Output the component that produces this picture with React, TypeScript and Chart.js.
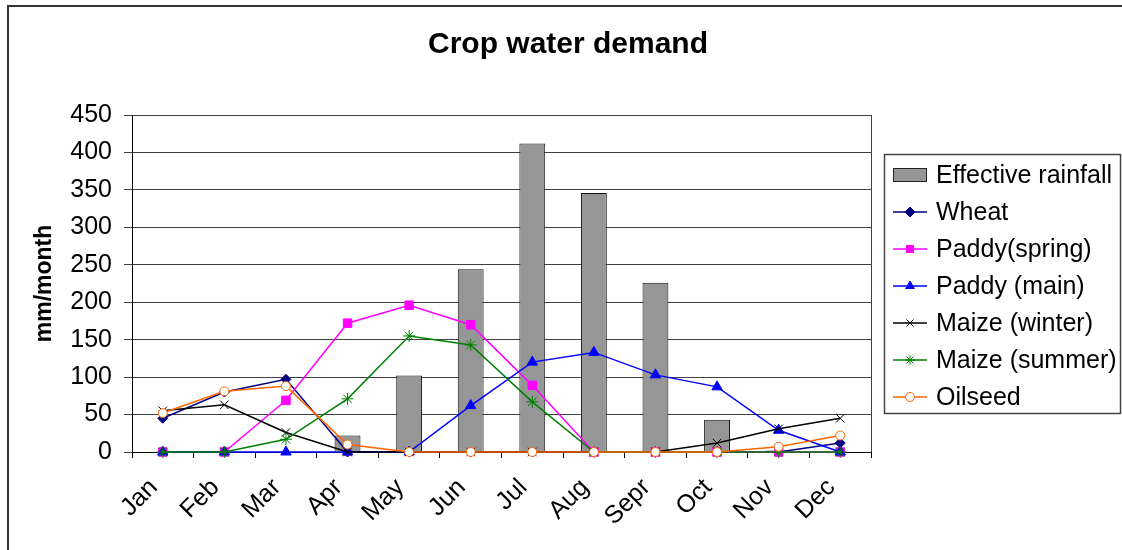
import React, { useEffect, useRef } from "react";
import { Chart, registerables } from "chart.js";

Chart.register(...registerables);

const FONT = "'Liberation Sans', Arial, sans-serif";

const chartTitle = "Crop water demand";
const yAxisTitle = "mm/month";
const months = ["Jan", "Feb", "Mar", "Apr", "May", "Jun", "Jul", "Aug", "Sepr", "Oct", "Nov", "Dec"];
const yMin = 0;
const yMax = 450;
const yStep = 50;

const effectiveRainfall = [1, 1, 1, 22, 102, 244, 412, 346, 226, 43, 2, 1];
const wheat = [45, 80, 97, 0, 0, 0, 0, 0, 0, 0, 0, 12];
const paddySpring = [0, 0, 69, 172, 196, 170, 89, 0, 0, 0, 0, 0];
const paddyMain = [0, 0, 0, 0, 0, 62, 120, 133, 103, 87, 29, 0];
const maizeWinter = [55, 63, 26, 0, 0, 0, 0, 0, 0, 12, 31, 45];
const maizeSummer = [0, 0, 17, 71, 155, 143, 67, 0, 0, 0, 0, 0];
const oilseed = [52, 81, 88, 10, 0, 0, 0, 0, 0, 0, 7, 22];

type LineSpec = {
  label: string;
  data: number[];
  color: string;
  pointStyle: string;
  radius: number;
  fill: string;
};

const lineSeries: LineSpec[] = [
  { label: "Wheat", data: wheat, color: "#000080", pointStyle: "rectRot", radius: 5, fill: "#000080" },
  { label: "Paddy(spring)", data: paddySpring, color: "#FF00FF", pointStyle: "rect", radius: 6, fill: "#FF00FF" },
  { label: "Paddy (main)", data: paddyMain, color: "#0000FF", pointStyle: "triangle", radius: 6, fill: "#0000FF" },
  { label: "Maize (winter)", data: maizeWinter, color: "#000000", pointStyle: "crossRot", radius: 6, fill: "#000000" },
  { label: "Maize (summer)", data: maizeSummer, color: "#008000", pointStyle: "star", radius: 6, fill: "#008000" },
  { label: "Oilseed", data: oilseed, color: "#FF6600", pointStyle: "circle", radius: 4.5, fill: "#FFFFFF" },
];

function drawMarker(ctx: CanvasRenderingContext2D, style: string, x: number, y: number, r: number, stroke: string, fill: string) {
  ctx.save();
  ctx.strokeStyle = stroke;
  ctx.fillStyle = fill;
  ctx.lineWidth = 1;
  ctx.beginPath();
  if (style === "rectRot") {
    ctx.moveTo(x, y - r);
    ctx.lineTo(x + r, y);
    ctx.lineTo(x, y + r);
    ctx.lineTo(x - r, y);
    ctx.closePath();
    ctx.fill();
    ctx.stroke();
  } else if (style === "rect") {
    const s = r * Math.SQRT1_2;
    ctx.rect(x - s, y - s, 2 * s, 2 * s);
    ctx.fill();
    ctx.stroke();
  } else if (style === "triangle") {
    for (let i = 0; i < 3; i++) {
      const a = (i * 2 * Math.PI) / 3;
      const px = x + Math.sin(a) * r;
      const py = y - Math.cos(a) * r;
      if (i === 0) ctx.moveTo(px, py);
      else ctx.lineTo(px, py);
    }
    ctx.closePath();
    ctx.fill();
    ctx.stroke();
  } else if (style === "crossRot") {
    const s = r * Math.SQRT1_2;
    ctx.moveTo(x - s, y - s);
    ctx.lineTo(x + s, y + s);
    ctx.moveTo(x - s, y + s);
    ctx.lineTo(x + s, y - s);
    ctx.stroke();
  } else if (style === "star") {
    const s = r * Math.SQRT1_2;
    ctx.moveTo(x - s, y - s);
    ctx.lineTo(x + s, y + s);
    ctx.moveTo(x - s, y + s);
    ctx.lineTo(x + s, y - s);
    ctx.moveTo(x, y - r);
    ctx.lineTo(x, y + r);
    ctx.moveTo(x - r, y);
    ctx.lineTo(x + r, y);
    ctx.stroke();
  } else {
    ctx.arc(x, y, r, 0, Math.PI * 2);
    ctx.fill();
    ctx.stroke();
  }
  ctx.restore();
}

const decorPlugin = {
  id: "decor",
  beforeDatasetsDraw(chart: any) {
    const { ctx, chartArea } = chart;
    ctx.save();
    ctx.strokeStyle = "#404040";
    ctx.lineWidth = 1;
    ctx.beginPath();
    ctx.moveTo(Math.round(chartArea.right) + 0.5, chartArea.top);
    ctx.lineTo(Math.round(chartArea.right) + 0.5, chartArea.bottom);
    ctx.stroke();
    ctx.restore();
  },
  afterDraw(chart: any) {
    const { ctx } = chart;
    ctx.save();
    // outer frame (left and top edges)
    ctx.strokeStyle = "#333333";
    ctx.lineWidth = 2;
    ctx.beginPath();
    ctx.moveTo(8, 550);
    ctx.lineTo(8, 6);
    ctx.lineTo(1122, 6);
    ctx.stroke();

    // title
    ctx.fillStyle = "#000";
    ctx.font = `bold 30px ${FONT}`;
    ctx.textAlign = "center";
    ctx.textBaseline = "middle";
    ctx.fillText(chartTitle, 568, 45);

    // legend
    const lx = 884.5;
    const ly = 154.5;
    const lw = 236;
    const lh = 259;
    ctx.fillStyle = "#fff";
    ctx.fillRect(lx, ly, lw, lh);
    ctx.strokeStyle = "#444";
    ctx.lineWidth = 1.5;
    ctx.strokeRect(lx, ly, lw, lh);

    const datasets = chart.data.datasets;
    ctx.font = `25px ${FONT}`;
    ctx.textAlign = "left";
    ctx.textBaseline = "middle";
    datasets.forEach((ds: any, i: number) => {
      const rowY = 175 + i * 37;
      const x0 = 893;
      const x1 = 927;
      if (ds.type === "bar") {
        ctx.fillStyle = ds.backgroundColor;
        ctx.fillRect(x0, rowY - 7, x1 - x0, 14);
        ctx.strokeStyle = "#222";
        ctx.lineWidth = 1;
        ctx.strokeRect(x0 + 0.5, rowY - 6.5, x1 - x0 - 1, 13);
      } else {
        ctx.strokeStyle = ds.borderColor;
        ctx.lineWidth = 1.5;
        ctx.beginPath();
        ctx.moveTo(x0, rowY);
        ctx.lineTo(x1, rowY);
        ctx.stroke();
        drawMarker(ctx, ds.pointStyle, (x0 + x1) / 2, rowY, Math.min(ds.pointRadius, 5), ds.pointBorderColor, ds.pointBackgroundColor);
      }
      ctx.fillStyle = "#000";
      ctx.fillText(ds.label, 936, rowY + 1);
    });
    ctx.restore();
  },
};

export default function App() {
  const canvasRef = useRef<HTMLCanvasElement | null>(null);

  useEffect(() => {
    const canvas = canvasRef.current;
    if (!canvas) return;

    const datasets: any[] = [
      {
        type: "bar",
        label: "Effective rainfall",
        data: effectiveRainfall,
        backgroundColor: "#969696",
        borderColor: "#111111",
        borderWidth: 1,
        barPercentage: 0.42,
        categoryPercentage: 1,
        order: 10,
      },
      ...lineSeries.map((s, i) => ({
        type: "line",
        label: s.label,
        data: s.data,
        borderColor: s.color,
        backgroundColor: s.fill,
        borderWidth: 1.5,
        pointStyle: s.pointStyle,
        pointRadius: s.radius,
        pointBorderColor: s.color,
        pointBackgroundColor: s.fill,
        pointBorderWidth: 1,
        tension: 0,
        fill: false,
        clip: false,
        order: 6 - i,
      })),
    ];

    const chart = new Chart(canvas, {
      type: "bar",
      data: { labels: months, datasets },
      options: {
        responsive: false,
        animation: false,
        devicePixelRatio: 1,
        layout: { padding: { left: 0, top: 115, right: 251, bottom: 0 } },
        plugins: {
          legend: { display: false },
          title: { display: false },
          tooltip: { enabled: false },
        },
        scales: {
          x: {
            offset: true,
            grid: {
              offset: true,
              drawOnChartArea: false,
              drawTicks: true,
              tickLength: 6,
              color: "#000",
            },
            border: { color: "#000", width: 1 },
            ticks: {
              autoSkip: false,
              maxRotation: 45,
              minRotation: 45,
              color: "#000",
              font: { family: FONT, size: 25 },
              padding: 15,
              labelOffset: -9,
            },
            afterFit: (s: any) => {
              s.height = 98;
            },
          },
          y: {
            min: yMin,
            max: yMax,
            ticks: {
              stepSize: yStep,
              color: "#000",
              font: { family: FONT, size: 25 },
              padding: 12,
            },
            grid: { color: "#404040", lineWidth: 1, tickLength: 8 },
            border: { color: "#000", width: 1 },
            title: {
              display: true,
              text: yAxisTitle,
              color: "#000",
              font: { family: FONT, size: 23, weight: "bold" },
              padding: { top: 31, bottom: 0 },
            },
            afterFit: (s: any) => {
              s.width = 132;
            },
          },
        },
      } as any,
      plugins: [decorPlugin],
    });

    return () => chart.destroy();
  }, []);

  return (
    <div style={{ position: "absolute", left: 0, top: 0, width: 1122, height: 550, background: "#fff" }}>
      <canvas ref={canvasRef} width={1122} height={550} style={{ display: "block" }} />
    </div>
  );
}
